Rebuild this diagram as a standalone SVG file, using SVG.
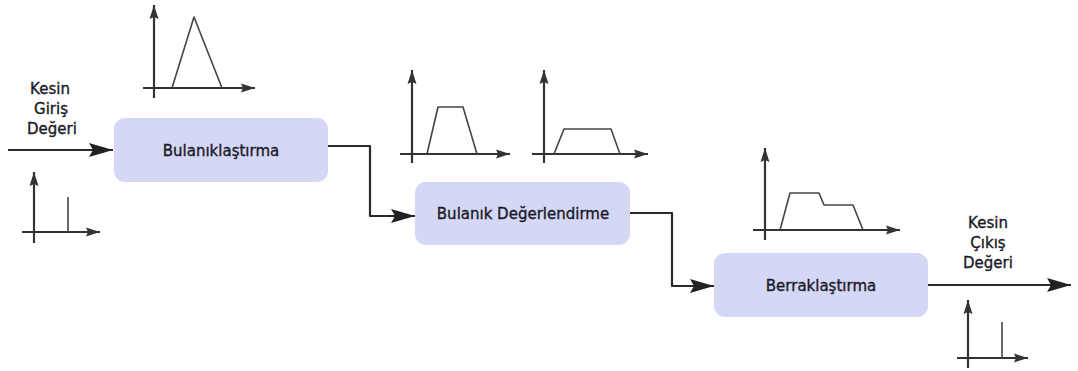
<svg xmlns="http://www.w3.org/2000/svg" width="1078" height="371" viewBox="0 0 1078 371">
  <defs>
    <marker id="arrow" viewBox="0 0 24 14" refX="24" refY="7" markerWidth="24" markerHeight="14" markerUnits="userSpaceOnUse" orient="auto">
      <path d="M0,0 L24,7 L0,14 L4,7 Z" fill="#222"/>
    </marker>
    <marker id="axis" viewBox="0 0 14 10" refX="14" refY="5" markerWidth="14" markerHeight="10" markerUnits="userSpaceOnUse" orient="auto">
      <path d="M0,0.5 L14,5 L0,9.5 L2,5 Z" fill="#333"/>
    </marker>
  </defs>
  <style>
    .box { fill: #d4d7f5; stroke: none; }
    .label { font-family: "DejaVu Sans", Verdana, sans-serif; font-size: 15px; fill: #1a1a26; stroke: #1a1a26; stroke-width: 0.35; text-anchor: middle; }
    .flow { fill: none; stroke: #2a2a2a; stroke-width: 2.2; stroke-linejoin: round; }
    .ax { fill: none; stroke: #333; stroke-width: 2.2; }
    .mf { fill: none; stroke: #444; stroke-width: 1.6; stroke-linejoin: round; }
  </style>
  <rect width="1078" height="371" fill="#ffffff"/>

  <!-- connectors -->
  <g id="connectors">
    <line class="flow" x1="8" y1="150" x2="113" y2="150" marker-end="url(#arrow)"/>
    <polyline class="flow" points="328,146 370,146 370,216 415,216" marker-end="url(#arrow)"/>
    <polyline class="flow" points="630,213 672,213 672,286 714,286" marker-end="url(#arrow)"/>
    <line class="flow" x1="928" y1="285" x2="1071" y2="285" marker-end="url(#arrow)"/>
  </g>

  <!-- input label and crisp input value -->
  <g id="input">
    <text class="label" x="50" y="94">Kesin</text>
    <text class="label" x="51" y="114">Giriş</text>
    <text class="label" x="52" y="134">Değeri</text>
    <line class="ax" x1="34" y1="243" x2="34" y2="172" marker-end="url(#axis)"/>
    <line class="ax" x1="22" y1="232" x2="100" y2="232" marker-end="url(#axis)"/>
    <line class="mf" x1="68" y1="232" x2="68" y2="197"/>
  </g>

  <!-- fuzzification -->
  <g id="fuzzification">
    <rect class="box" x="114" y="118" width="214" height="64" rx="11"/>
    <text class="label" x="221" y="156">Bulanıklaştırma</text>
  </g>
  <g id="triangle-set">
    <line class="ax" x1="154" y1="98" x2="154" y2="5" marker-end="url(#axis)"/>
    <line class="ax" x1="143" y1="88" x2="255" y2="88" marker-end="url(#axis)"/>
    <polyline class="mf" points="172,88 194,17 222,88"/>
  </g>

  <!-- fuzzy evaluation -->
  <g id="evaluation">
    <rect class="box" x="415" y="182" width="215" height="63" rx="11"/>
    <text class="label" x="523" y="219">Bulanık Değerlendirme</text>
  </g>
  <g id="trapezoid-set-1">
    <line class="ax" x1="412" y1="163" x2="412" y2="70" marker-end="url(#axis)"/>
    <line class="ax" x1="400" y1="154" x2="510" y2="154" marker-end="url(#axis)"/>
    <polyline class="mf" points="427,154 438,107 463,107 477,154"/>
  </g>
  <g id="trapezoid-set-2">
    <line class="ax" x1="544" y1="163" x2="544" y2="70" marker-end="url(#axis)"/>
    <line class="ax" x1="532" y1="154" x2="648" y2="154" marker-end="url(#axis)"/>
    <polyline class="mf" points="554,154 564,129 611,129 620,154"/>
  </g>

  <!-- defuzzification -->
  <g id="defuzzification">
    <rect class="box" x="714" y="253" width="214" height="64" rx="11"/>
    <text class="label" x="821" y="291">Berraklaştırma</text>
  </g>
  <g id="aggregate-set">
    <line class="ax" x1="765" y1="240" x2="765" y2="148" marker-end="url(#axis)"/>
    <line class="ax" x1="753" y1="230" x2="900" y2="230" marker-end="url(#axis)"/>
    <polyline class="mf" points="780,230 790,193 819,193 824,205 853,205 863,230"/>
  </g>

  <!-- output label and crisp output value -->
  <g id="output">
    <text class="label" x="988" y="228">Kesin</text>
    <text class="label" x="988" y="248">Çıkış</text>
    <text class="label" x="988" y="268">Değeri</text>
    <line class="ax" x1="968" y1="368" x2="968" y2="300" marker-end="url(#axis)"/>
    <line class="ax" x1="957" y1="358" x2="1028" y2="358" marker-end="url(#axis)"/>
    <line class="mf" x1="1002" y1="358" x2="1002" y2="322"/>
  </g>
</svg>
